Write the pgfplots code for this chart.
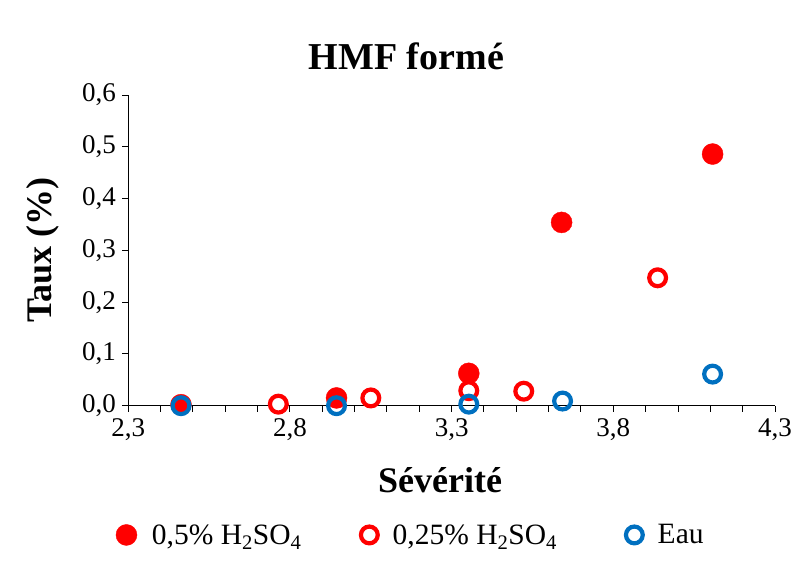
\documentclass[border=0pt]{standalone}
\usepackage{pgfplots}
\pgfplotsset{compat=1.18}
\usepackage{fontspec}
\setmainfont{Liberation Serif}
\definecolor{exblue}{RGB}{0,112,192}
\begin{document}
\begin{tikzpicture}
\path[use as bounding box] (0,0) rectangle (805bp,563bp);
\begin{axis}[
  at={(128.3bp,157.3bp)}, anchor=south west,
  scale only axis, width=646.7bp, height=310.7bp,
  xmin=2.3, xmax=4.3, ymin=0, ymax=0.6,
  xtick={2.3,2.8,3.3,3.8,4.3},
  minor xtick={2.4,2.5,2.6,2.7,2.9,3.0,3.1,3.2,3.4,3.5,3.6,3.7,3.9,4.0,4.1,4.2},
  ytick={0,0.1,0.2,0.3,0.4,0.5,0.6},
  axis x line=bottom, axis y line=left,
  axis line style={-, line width=1.3bp},
  tick align=outside,
  major tick length=6bp, minor tick length=6bp,
  every tick/.style={black, line width=1bp},
  /pgf/number format/.cd, fixed, fixed zerofill, precision=1, use comma, assume math mode=true,
  /pgfplots/.cd,
  tick label style={font=\fontsize{27bp}{32bp}\selectfont},
  x tick label style={yshift=-3bp},
  y tick label style={xshift=-3bp},
  title={\textbf{HMF formé}},
  title style={font=\fontsize{38bp}{44bp}\selectfont, at={(axis description cs:0.43,1)}, anchor=south, yshift=16bp},
  xlabel={\textbf{Sévérité}},
  xlabel style={font=\fontsize{36bp}{42bp}\selectfont, at={(axis description cs:0.482,-0.239)}, anchor=center},
  ylabel={\textbf{Taux (\%)}},
  ylabel style={font=\fontsize{36bp}{42bp}\selectfont, at={(axis description cs:-0.132,0.501)}, anchor=center, rotate=0},
  legend columns=3,
  legend style={draw=none, fill=none, at={(axis description cs:-0.024,-0.416)}, anchor=west,
    font=\fontsize{29.5bp}{34bp}\selectfont,
    /tikz/column 2/.style={column sep=57.5bp},
    /tikz/column 4/.style={column sep=67bp},
    /tikz/every odd column/.append style={column sep=13bp}},
  legend cell align=left,
  clip=false,
]
\addplot[only marks, mark=*, mark size=10.5bp, mark options={draw=red, fill=red}]
  coordinates {(2.463,0.002) (2.944,0.015) (3.353,0.0625) (3.640,0.354) (4.107,0.486)};
\addlegendentry{0,5\% H\textsubscript{2}SO\textsubscript{4}}
\addplot[only marks, mark=*, mark size=8.4bp, mark options={draw=red, fill=white, line width=4.2bp}]
  coordinates {(2.764,0.003) (3.050,0.015) (3.353,0.029) (3.523,0.028) (3.937,0.247)};
\addlegendentry{0,25\% H\textsubscript{2}SO\textsubscript{4}}
\addplot[only marks, mark=o, mark size=8.4bp, mark options={draw=exblue, line width=4.2bp}]
  coordinates {(2.463,0.0) (2.944,0.0) (3.353,0.003) (3.643,0.009) (4.107,0.061)};
\addlegendentry{Eau}
\end{axis}
\end{tikzpicture}
\end{document}
